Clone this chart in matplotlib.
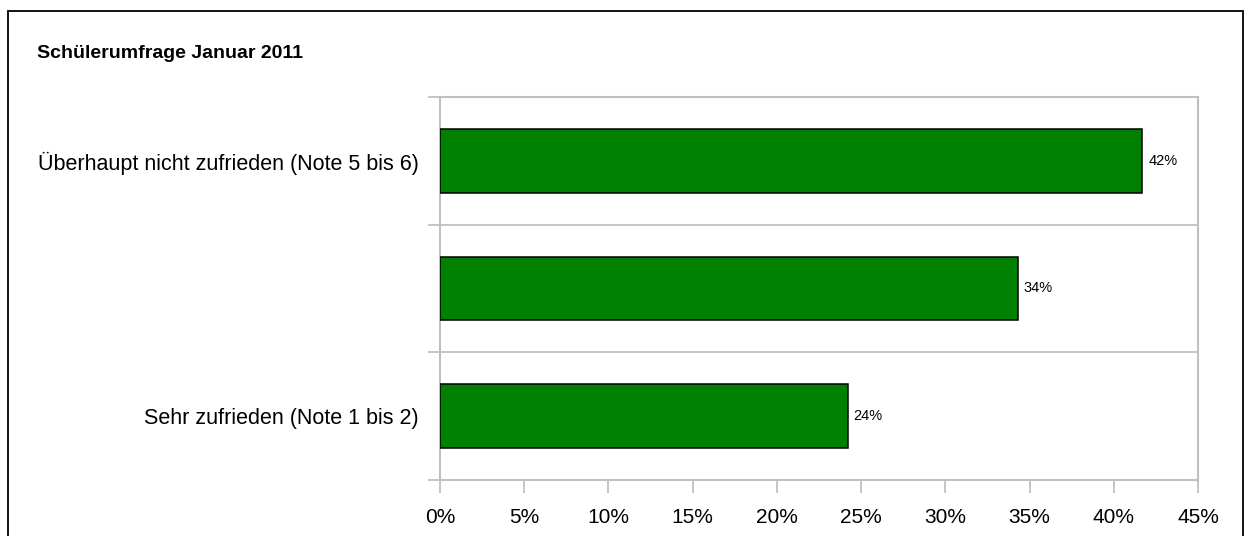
import matplotlib
matplotlib.use("Agg")
import matplotlib.pyplot as plt
from matplotlib.patches import Rectangle
from matplotlib.ticker import FixedLocator, PercentFormatter

plt.rcParams['font.family'] = ['Liberation Sans', 'DejaVu Sans']

title = "Schülerumfrage Januar 2011"
categories = ["Sehr zufrieden (Note 1 bis 2)", "", "Überhaupt nicht zufrieden (Note 5 bis 6)"]
values = [24.2, 34.3, 41.7]
value_labels = ["24%", "34%", "42%"]
x_ticks = [0, 5, 10, 15, 20, 25, 30, 35, 40, 45]

W, H = 1244, 536
fig = plt.figure(figsize=(W / 100, H / 100), dpi=100)
fig.patch.set_facecolor("white")

# figure border
fig.add_artist(Rectangle((8 / W, -0.05), (1242.5 - 8) / W, (H - 11) / H + 0.05,
                         transform=fig.transFigure, fill=False,
                         edgecolor="black", linewidth=1.3))

left, right, top, bottom = 440, 1198, 97, 480
ax = fig.add_axes([left / W, 1 - bottom / H, (right - left) / W, (bottom - top) / H])

grid_c = "#c0c0c0"
ypos = list(range(len(categories)))
ax.barh(ypos, values, height=0.5, color="#008000", edgecolor="black", linewidth=1.1, zorder=3)
for y, v, lab in zip(ypos, values, value_labels):
    ax.text(v + 0.35, y, lab, va="center", ha="left", fontsize=10.5, color="black")

ax.set_xlim(0, 45)
ax.set_ylim(-0.5, len(categories) - 0.5)
ax.set_xticks(x_ticks)
ax.xaxis.set_major_formatter(PercentFormatter(decimals=0))
ax.set_yticks(ypos)
ax.set_yticklabels(categories)
ax.yaxis.set_minor_locator(FixedLocator([-0.5, 0.5, 1.5, 2.5]))

ax.tick_params(axis="y", which="major", length=0, pad=15.5, labelsize=15.5)
ax.tick_params(axis="y", which="minor", length=9, width=1.3, color=grid_c)
ax.tick_params(axis="x", which="major", length=9.5, width=1.3, color=grid_c, pad=11, labelsize=15)
ax.grid(axis="y", which="minor", color=grid_c, linewidth=1.3, zorder=0)
for s in ax.spines.values():
    s.set_color(grid_c)
    s.set_linewidth(1.5)

fig.text(37 / W, 1 - 54 / H, title, fontsize=14, fontweight="bold", va="center", ha="left")

fig.savefig("out.png", dpi=100)
